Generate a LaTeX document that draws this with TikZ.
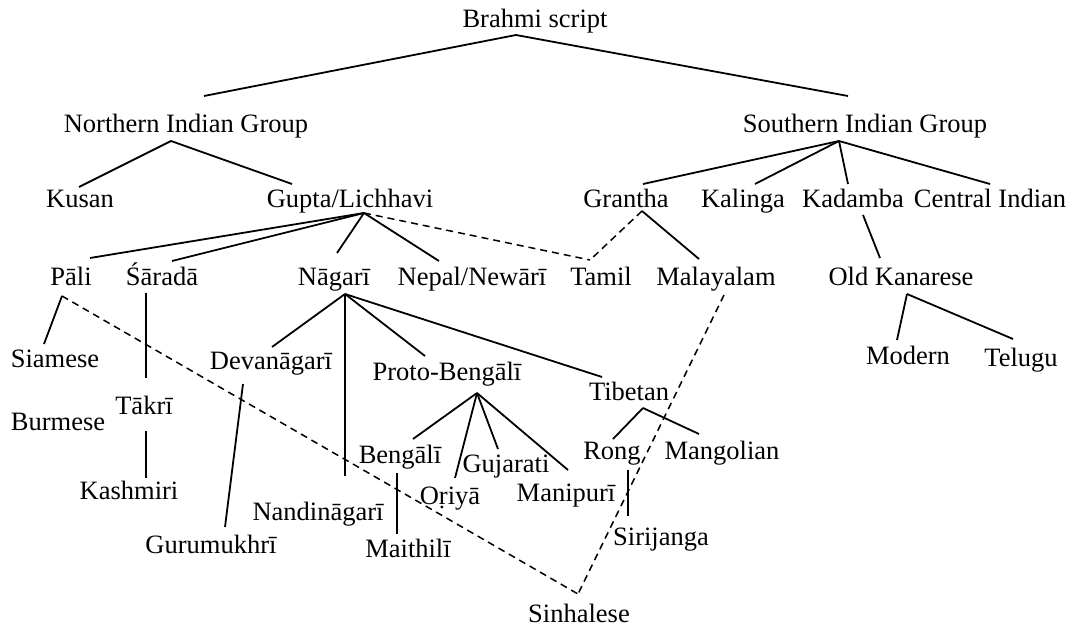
\documentclass[tikz,border=0pt]{standalone}
\usepackage{fontspec}
\setmainfont{Liberation Serif}
\usetikzlibrary{calc}
\tikzset{
  lbl/.style={anchor=base, inner sep=0pt, font=\fontsize{26.5}{30}\selectfont},
  edge/.style={line width=1.8pt},
  link/.style={line width=1.5pt, dash pattern=on 7pt off 5pt},
}
\begin{document}
\begin{tikzpicture}[x=1pt,y=-1pt]
\useasboundingbox (0,0) rectangle (1072,628);
% nodes (base points)
\node[lbl] (brahmi) at (535,28) {Brahmi script};
\node[lbl] (nig) at (186,133) {Northern Indian Group};
\node[lbl] (sig) at (865,133) {Southern Indian Group};
\node[lbl] (kusan) at (80,208) {Kusan};
\node[lbl] (gupta) at (350,208) {Gupta/Lichhavi};
\node[lbl] (grantha) at (626,208) {Grantha};
\node[lbl] (kalinga) at (743,208) {Kalinga};
\node[lbl] (kadamba) at (853,208) {Kadamba};
\node[lbl] (central) at (990,208) {Central Indian};
\node[lbl] (pali) at (71,286) {Pāli};
\node[lbl] (sarada) at (162,286) {Śāradā};
\node[lbl] (nagari) at (334,286) {Nāgarī};
\node[lbl] (nepal) at (472,286) {Nepal/Newārī};
\node[lbl] (tamil) at (601,286) {Tamil};
\node[lbl] (malayalam) at (716,286) {Malayalam};
\node[lbl] (oldk) at (901,286) {Old Kanarese};
\node[lbl] (siamese) at (55,368) {Siamese};
\node[lbl] (devanagari) at (271,370) {Devanāgarī};
\node[lbl] (proto) at (447,381) {Proto-Bengālī};
\node[lbl] (tibetan) at (629,401) {Tibetan};
\node[lbl] (modern) at (908,365) {Modern};
\node[lbl] (telugu) at (1021,367) {Telugu};
\node[lbl] (burmese) at (58,431) {Burmese};
\node[lbl] (takri) at (144,415) {Tākrī};
\node[lbl] (rong) at (612,460) {Rong};
\node[lbl] (mangolian) at (722,460) {Mangolian};
\node[lbl] (bengali) at (400,464) {Bengālī};
\node[lbl] (gujarati) at (506,473) {Gujarati};
\node[lbl] (kashmiri) at (129,500) {Kashmiri};
\node[lbl] (oriya) at (450,504) {Oṛiyā};
\node[lbl] (manipuri) at (566,501) {Manipurī};
\node[lbl] (nandinagari) at (318,520) {Nandināgarī};
\node[lbl] (sirijanga) at (661,545) {Sirijanga};
\node[lbl] (gurumukhri) at (211,553) {Gurumukhrī};
\node[lbl] (maithili) at (408,557) {Maithilī};
\node[lbl] (sinhalese) at (579,622) {Sinhalese};
% solid connectors
\draw[edge] ($(brahmi.base)+(-19,7)$) -- ($(nig.base)+(18,-37)$);
\draw[edge] ($(brahmi.base)+(-19,7)$) -- ($(sig.base)+(-17,-37)$);
\draw[edge] ($(nig.base)+(-15,8)$) -- ($(kusan.base)+(-1,-21)$);
\draw[edge] ($(nig.base)+(-15,8)$) -- ($(gupta.base)+(-58,-24)$);
\draw[edge] ($(sig.base)+(-26,8)$) -- ($(grantha.base)+(17,-24)$);
\draw[edge] ($(sig.base)+(-26,8)$) -- ($(kalinga.base)+(12,-24)$);
\draw[edge] ($(sig.base)+(-26,8)$) -- ($(kadamba.base)+(-5,-24)$);
\draw[edge] ($(sig.base)+(-26,8)$) -- ($(central.base)+(0,-24)$);
\draw[edge] ($(gupta.base)+(14,5)$) -- ($(pali.base)+(19,-28)$);
\draw[edge] ($(gupta.base)+(14,5)$) -- ($(sarada.base)+(10,-25)$);
\draw[edge] ($(gupta.base)+(14,5)$) -- ($(nagari.base)+(3,-33)$);
\draw[edge] ($(gupta.base)+(14,5)$) -- ($(nepal.base)+(-33,-25)$);
\draw[edge] ($(grantha.base)+(16,3)$) -- ($(malayalam.base)+(-17,-27)$);
\draw[edge] ($(kadamba.base)+(10,7)$) -- ($(oldk.base)+(-21,-28)$);
\draw[edge] ($(oldk.base)+(6,8)$) -- ($(modern.base)+(-11,-25)$);
\draw[edge] ($(oldk.base)+(6,8)$) -- ($(telugu.base)+(-8,-28)$);
\draw[edge] ($(pali.base)+(-9,10)$) -- ($(siamese.base)+(-11,-24)$);
\draw[edge] ($(sarada.base)+(-16,7)$) -- ($(takri.base)+(2,-37)$);
\draw[edge] ($(takri.base)+(2,16)$) -- ($(kashmiri.base)+(17,-22)$);
\draw[edge] ($(nagari.base)+(11,8)$) -- ($(devanagari.base)+(1,-23)$);
\draw[edge] ($(nagari.base)+(11,8)$) -- ($(nandinagari.base)+(27,-44)$);
\draw[edge] ($(nagari.base)+(11,8)$) -- ($(proto.base)+(-22,-25)$);
\draw[edge] ($(nagari.base)+(11,8)$) -- ($(tibetan.base)+(-27,-24)$);
\draw[edge] ($(devanagari.base)+(-28,14)$) -- ($(gurumukhri.base)+(14,-26)$);
\draw[edge] ($(proto.base)+(30,12)$) -- ($(bengali.base)+(13,-25)$);
\draw[edge] ($(proto.base)+(30,12)$) -- ($(oriya.base)+(5,-26)$);
\draw[edge] ($(proto.base)+(30,12)$) -- ($(gujarati.base)+(-8,-24)$);
\draw[edge] ($(proto.base)+(30,12)$) -- ($(manipuri.base)+(2,-31)$);
\draw[edge] ($(bengali.base)+(-3,9)$) -- ($(maithili.base)+(-11,-23)$);
\draw[edge] ($(tibetan.base)+(14,7)$) -- ($(rong.base)+(1,-21)$);
\draw[edge] ($(tibetan.base)+(14,7)$) -- ($(mangolian.base)+(-23,-26)$);
\draw[edge] ($(rong.base)+(16,10)$) -- ($(sirijanga.base)+(-33,-29)$);
% dashed connectors
\draw[link] ($(gupta.base)+(14,5)$) -- ($(tamil.base)+(-11,-26)$);
\draw[link] ($(grantha.base)+(16,3)$) -- ($(tamil.base)+(-11,-26)$);
\draw[link] ($(pali.base)+(-9,10)$) -- ($(sinhalese.base)+(-1,-28)$);
\draw[link] ($(malayalam.base)+(8,9)$) -- ($(sinhalese.base)+(-1,-28)$);
\end{tikzpicture}
\end{document}
